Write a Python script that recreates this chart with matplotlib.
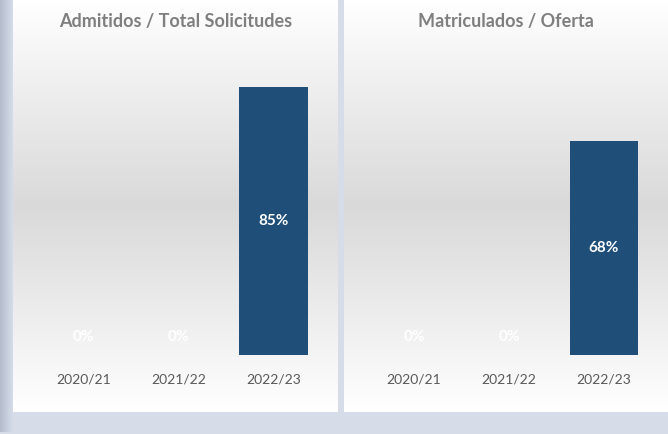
import numpy as np
import matplotlib.pyplot as plt
from matplotlib.colors import LinearSegmentedColormap

plt.rcParams['font.family'] = ['Lato', 'DejaVu Sans']

years = ['2020/21', '2021/22', '2022/23']
admitidos = [0.0, 0.0, 0.85]
matriculados = [0.0, 0.0, 0.68]
titles = ['Admitidos / Total Solicitudes', 'Matriculados / Oferta']

W, H = 668, 434
bar_color = '#1f4e79'
frame_color = '#d6dde9'

fig = plt.figure(figsize=(W / 100, H / 100), dpi=100)
fig.patch.set_facecolor(frame_color)


def px(x0, y0, x1, y1):
    # pixel box (top-left origin) -> figure fraction rect
    return [x0 / W, 1 - y1 / H, (x1 - x0) / W, (y1 - y0) / H]


# left edge shading
edge = fig.add_axes(px(0, 0, 13, 432))
edge_cmap = LinearSegmentedColormap.from_list('edge', ['#b4bccc', frame_color])
edge.imshow(np.linspace(0, 1, 64)[None, :], aspect='auto', cmap=edge_cmap)
edge.set_axis_off()

# panel background gradient: white -> grey -> white
panel_cmap = LinearSegmentedColormap.from_list(
    'panel', [(0, '#ffffff'), (0.5, '#d9d9d9'), (1, '#ffffff')])
grad = np.linspace(0, 1, 256)[:, None]

panels = [(13, 338), (344, 668)]
data_boxes = [(36, 321), (366.5, 651.5)]
series = [admitidos, matriculados]

for (p0, p1), (d0, d1), vals, title in zip(panels, data_boxes, series, titles):
    bg = fig.add_axes(px(p0, 0, p1, 412))
    bg.imshow(grad, aspect='auto', cmap=panel_cmap)
    bg.set_axis_off()

    ax = fig.add_axes(px(d0, 40, d1, 355))
    ax.patch.set_alpha(0)
    x = np.arange(len(years))
    ax.bar(x, vals, width=0.72, color=bar_color)
    ax.set_xlim(-0.5, 2.5)
    ax.set_ylim(0, 1)
    ax.set_xticks(x)
    ax.set_xticklabels(years, fontsize=10, color='#595959')
    ax.tick_params(axis='x', length=0, pad=13)
    ax.set_yticks([])
    for s in ax.spines.values():
        s.set_visible(False)

    for xi, v in zip(x, vals):
        label = f'{v:.0%}'
        if v > 0:
            ax.text(xi, v / 2, label, ha='center', va='center',
                    color='white', fontsize=11, fontweight='bold')
        else:
            ax.annotate(label, (xi, 0), xytext=(0, 8), textcoords='offset points',
                        ha='center', va='bottom', color='white',
                        fontsize=11, fontweight='bold')

    fig.text((p0 + p1) / 2 / W, 1 - 22 / H, title, ha='center', va='center',
             fontsize=13, fontweight='bold', color='#7f7f7f')

fig.savefig('out.png', dpi=100, facecolor=fig.get_facecolor())
